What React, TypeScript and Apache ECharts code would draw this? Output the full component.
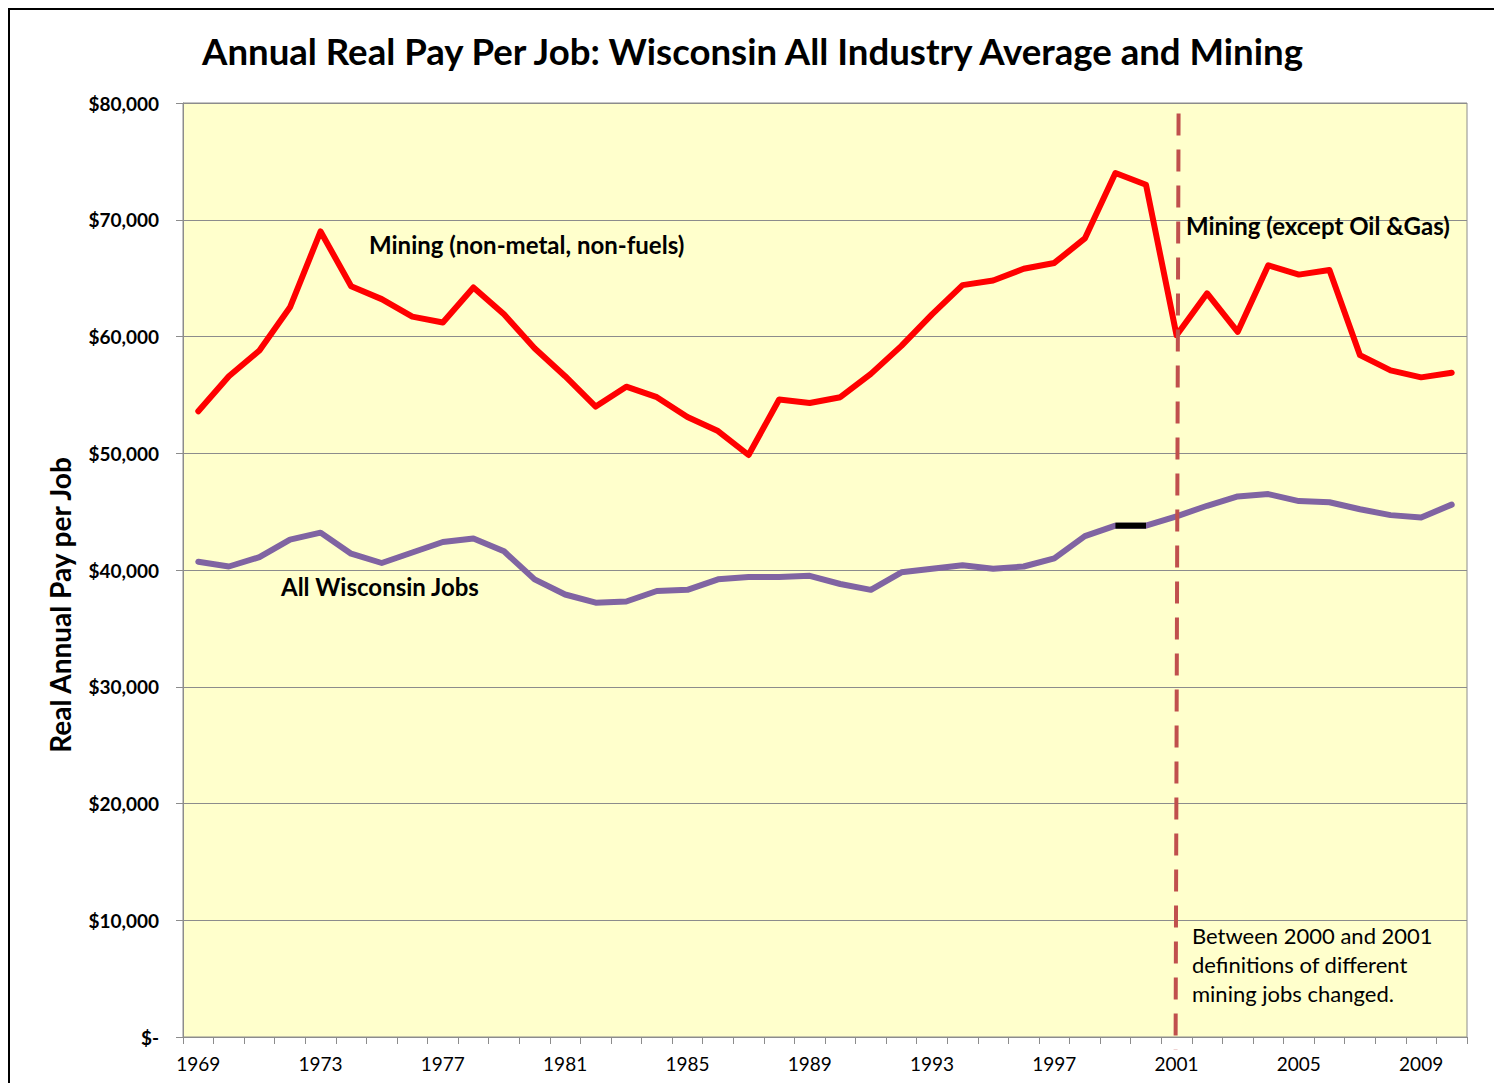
import React, { useEffect, useRef } from "react";
import * as echarts from "echarts";

const years = [
  "1969", "1970", "1971", "1972", "1973", "1974", "1975", "1976", "1977", "1978",
  "1979", "1980", "1981", "1982", "1983", "1984", "1985", "1986", "1987", "1988",
  "1989", "1990", "1991", "1992", "1993", "1994", "1995", "1996", "1997", "1998",
  "1999", "2000", "2001", "2002", "2003", "2004", "2005", "2006", "2007", "2008",
  "2009", "2010",
];

const mining = [
  53600, 56600, 58800, 62500, 69000, 64300, 63200, 61700, 61200, 64200,
  61900, 59000, 56600, 54000, 55700, 54800, 53100, 51900, 49850, 54600,
  54300, 54800, 56800, 59200, 61900, 64400, 64800, 65800, 66300, 68400,
  74000, 73000, 60100, 63700, 60400, 66100, 65300, 65700, 58400, 57100,
  56500, 56900,
];

const allJobs = [
  40700, 40300, 41100, 42600, 43200, 41400, 40600, 41500, 42400, 42700,
  41600, 39200, 37900, 37200, 37300, 38200, 38300, 39200, 39400, 39400,
  39500, 38800, 38300, 39800, 40100, 40400, 40100, 40300, 41000, 42900,
  43800, 43800, 44600, 45500, 46300, 46500, 45900, 45800, 45200, 44700,
  44500, 45600,
];

const bridgeYears = ["1999", "2000"];
const changeYear = "2001";
const changeLineTop = 79100;
const changeLineBottom = -1100;

const titleText = "Annual Real Pay Per Job: Wisconsin All Industry Average and Mining";
const yAxisName = "Real Annual Pay per Job";
const miningLabel = "Mining (non-metal, non-fuels)";
const miningLabel2 = "Mining (except Oil &Gas)";
const allJobsLabel = "All Wisconsin Jobs";
const noteText = "Between 2000 and 2001\ndefinitions of different\nmining jobs changed.";

const FONT = "Lato, 'Open Sans', sans-serif";

export default function App() {
  const ref = useRef<HTMLDivElement>(null);

  useEffect(() => {
    if (!ref.current) return;
    const chart = echarts.init(ref.current, undefined, { renderer: "svg" });
    const bridge = years.map((y, i) => (bridgeYears.includes(y) ? allJobs[i] : null));

    chart.setOption({
      animation: false,
      textStyle: { fontFamily: FONT },
      title: {
        text: titleText,
        left: "center",
        top: 17,
        textStyle: { fontFamily: FONT, fontSize: 36.6, fontWeight: "bold", color: "#000" },
      },
      grid: {
        left: 173,
        top: 93,
        right: 28,
        bottom: 46,
        show: true,
        backgroundColor: "#FFFFCC",
        borderColor: "#8c8c8c",
        borderWidth: 1,
      },
      xAxis: {
        type: "category",
        data: years,
        boundaryGap: true,
        axisLine: { show: true, lineStyle: { color: "#8c8c8c", width: 1 } },
        axisTick: { show: true, interval: 0, length: 7, lineStyle: { color: "#8c8c8c" } },
        axisLabel: {
          interval: 3,
          margin: 17,
          fontFamily: FONT,
          fontSize: 19,
          color: "#000",
        },
        splitLine: { show: false },
      },
      yAxis: {
        type: "value",
        min: 0,
        max: 80000,
        interval: 10000,
        axisLine: { show: true, lineStyle: { color: "#8c8c8c", width: 1 } },
        axisTick: { show: true, length: 7, lineStyle: { color: "#8c8c8c" } },
        axisLabel: {
          margin: 24,
          fontFamily: FONT,
          fontSize: 19,
          fontWeight: "bold",
          color: "#000",
          formatter: (v: number) => (v === 0 ? "$-" : "$" + v.toLocaleString("en-US")),
        },
        splitLine: { show: true, lineStyle: { color: "#8c8c8c", width: 1 } },
      },
      series: [
        {
          name: "Mining",
          type: "line",
          data: mining,
          symbol: "none",
          lineStyle: { color: "#FF0000", width: 6, cap: "round", join: "round" },
          itemStyle: { color: "#FF0000" },
        },
        {
          name: "All Wisconsin Jobs",
          type: "line",
          data: allJobs,
          symbol: "none",
          lineStyle: { color: "#8064A2", width: 6, cap: "round", join: "round" },
          itemStyle: { color: "#8064A2" },
        },
        {
          name: "Bridge",
          type: "line",
          data: bridge,
          symbol: "none",
          connectNulls: false,
          lineStyle: { color: "#000000", width: 6 },
          itemStyle: { color: "#000000" },
          z: 3,
        },
      ],
    });

    const top = chart.convertToPixel({ xAxisIndex: 0, yAxisIndex: 0 }, [changeYear, changeLineTop]);
    const bottom = chart.convertToPixel({ xAxisIndex: 0, yAxisIndex: 0 }, [changeYear, changeLineBottom]);

    chart.setOption({
      graphic: [
        {
          type: "line",
          shape: { x1: top[0] + 2, y1: top[1], x2: bottom[0] - 1, y2: bottom[1] },
          style: { stroke: "#C0504D", lineWidth: 4, lineDash: [22, 14] },
          z: 10,
        },
        {
          type: "text",
          x: 50,
          y: 595,
          rotation: Math.PI / 2,
          style: {
            text: yAxisName,
            fontFamily: FONT,
            fontSize: 28,
            fontWeight: "bold",
            fill: "#000",
            align: "center",
            verticalAlign: "middle",
          },
          z: 20,
        },
        {
          type: "text",
          left: 359,
          top: 222,
          style: { text: miningLabel, fontFamily: FONT, fontSize: 24, fontWeight: "bold", fill: "#000" },
          z: 20,
        },
        {
          type: "text",
          left: 1176,
          top: 203,
          style: { text: miningLabel2, fontFamily: FONT, fontSize: 24, fontWeight: "bold", fill: "#000" },
          z: 20,
        },
        {
          type: "text",
          left: 271,
          top: 564,
          style: { text: allJobsLabel, fontFamily: FONT, fontSize: 24, fontWeight: "bold", fill: "#000" },
          z: 20,
        },
        {
          type: "text",
          left: 1182,
          top: 911,
          style: { text: noteText, fontFamily: FONT, fontSize: 22, lineHeight: 29, fill: "#000" },
          z: 20,
        },
      ],
    });

    return () => chart.dispose();
  }, []);

  return (
    <div
      style={{
        width: 1489,
        height: 1075,
        boxSizing: "border-box",
        borderLeft: "2px solid #000",
        borderTop: "2px solid #000",
        borderRight: "2px solid #000",
        background: "#fff",
        position: "relative",
      }}
    >
      <div ref={ref} style={{ width: 1485, height: 1073 }} />
    </div>
  );
}
